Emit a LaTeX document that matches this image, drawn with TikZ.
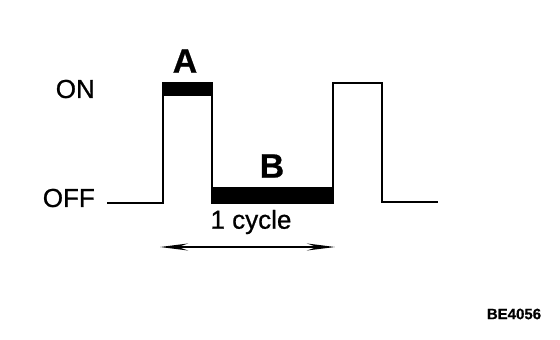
\documentclass[tikz,border=0pt]{standalone}
\usepackage{fontspec}
\setmainfont{Liberation Sans}
\newfontfamily\scanfont{Liberation Sans}[FakeBold=0.8]
\newfontfamily\scanbold{Liberation Sans Bold}[FakeBold=0.6]
\usetikzlibrary{arrows.meta}
\begin{document}
\begin{tikzpicture}[x=1pt,y=-1pt,
  wave/.style={line width=2.8pt,line join=miter},
  bar/.style={fill=black},
  lbl/.style={inner sep=0pt,font=\scanfont\fontsize{26}{28}\selectfont},
  big/.style={inner sep=0pt,font=\scanbold\fontsize{34}{36}\selectfont},
  tag/.style={inner sep=0pt,font=\scanbold\fontsize{15}{17}\selectfont},
  cyc/.style={line width=2pt,{Stealth[length=28pt,width=7pt,inset=10pt]}-{Stealth[length=28pt,width=7pt,inset=10pt]}}]
\useasboundingbox (0,0) rectangle (560,340);
% waveform
\draw[wave] (107,203) -- (163,203) -- (163,84) -- (212,84) -- (212,203)
  -- (333,203) -- (333,83) -- (382,83) -- (382,202) -- (438,202);
% thick bars
\fill[bar] (161.6,82) rectangle (213.4,96);
\fill[bar] (210.6,187) rectangle (334,204.4);
% labels
\node[lbl,anchor=east] (on) at (95,89) {ON};
\node[lbl,anchor=east] (off) at (95,198) {OFF};
\node[big] (a) at (185,61) {A};
\node[big] (b) at (272,166) {B};
\node[lbl] (cycle) at (251,222) {1 cycle};
\node[tag] (code) at (514,314) {BE4056};
% cycle arrow
\coordinate (cl) at (160,247);
\coordinate (cr) at (335,247);
\draw[cyc] (cl) -- (cr);
\end{tikzpicture}
\end{document}
